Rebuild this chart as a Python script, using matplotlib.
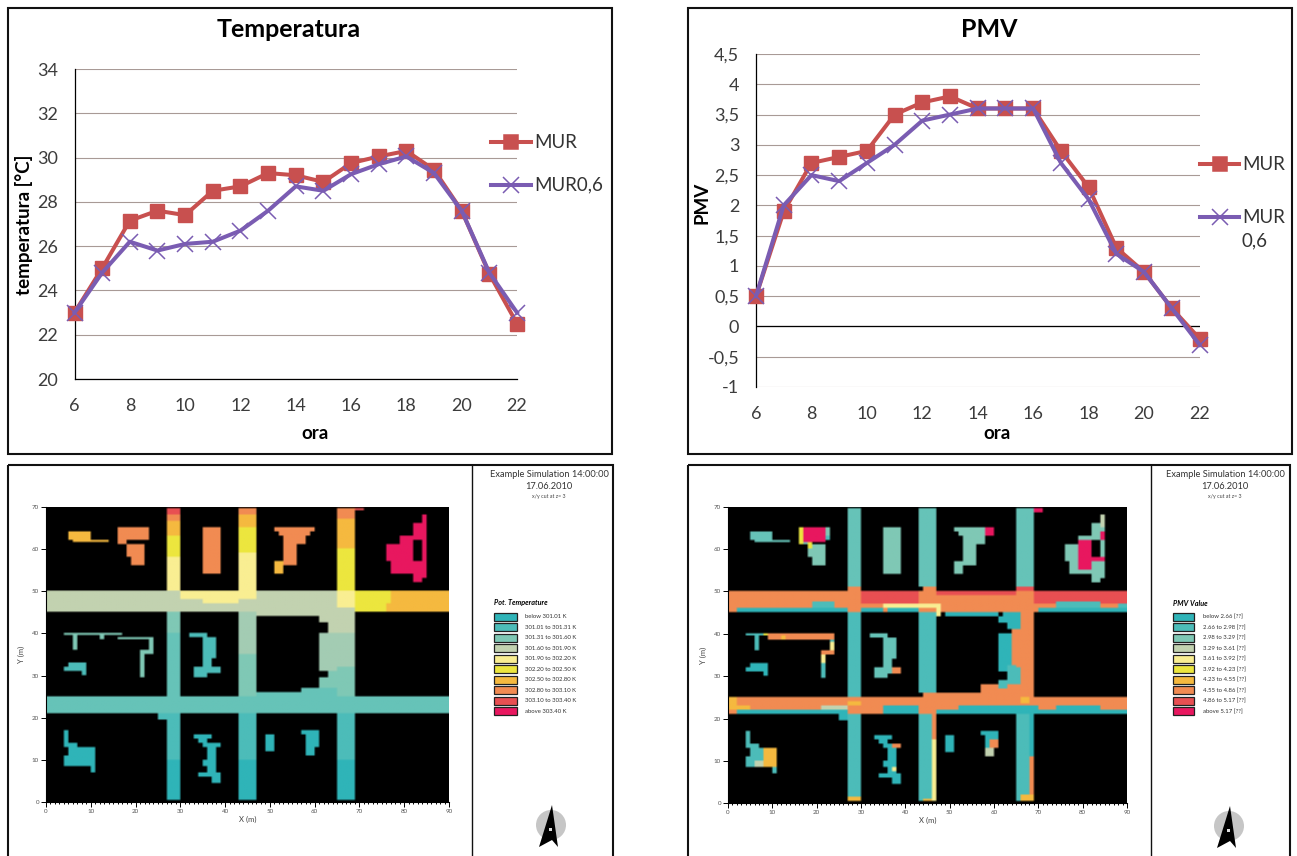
import numpy as np
import matplotlib
matplotlib.use('Agg')
import matplotlib.pyplot as plt
from matplotlib.colors import ListedColormap
from matplotlib.patches import Rectangle, Circle, Polygon
from matplotlib.ticker import MultipleLocator

plt.rcParams['font.family'] = ['Lato', 'DejaVu Sans']

W, H = 1297, 856

# line charts
hours = list(range(6, 23))
temp_mur = [23, 25, 27.15, 27.6, 27.4, 28.5, 28.7, 29.3, 29.2, 28.9, 29.75, 30.05, 30.3, 29.45, 27.6, 24.75, 22.5]
temp_mur06 = [23, 24.8, 26.2, 25.8, 26.1, 26.2, 26.7, 27.6, 28.7, 28.5, 29.25, 29.7, 30.05, 29.3, 27.6, 24.8, 23]
pmv_mur = [0.5, 1.9, 2.7, 2.8, 2.9, 3.5, 3.7, 3.8, 3.6, 3.6, 3.6, 2.9, 2.3, 1.3, 0.9, 0.3, -0.2]
pmv_mur06 = [0.5, 2, 2.5, 2.4, 2.7, 3, 3.4, 3.5, 3.6, 3.6, 3.6, 2.7, 2.1, 1.2, 0.9, 0.3, -0.3]

# legends of the two maps
palette = ['#2fb4b8', '#4cbcb9', '#7fc8b5', '#c2d2b0', '#f9ee92', '#ece63e',
           '#f5b93f', '#f18b52', '#e84f52', '#e8175f']
# in-between shades seen on the streets of the temperature map
shades = ['#66c3b8', '#a3ccb3']
temp_labels = ['below 301.01 K', '301.01 to 301.31 K', '301.31 to 301.60 K', '301.60 to 301.90 K',
               '301.90 to 302.20 K', '302.20 to 302.50 K', '302.50 to 302.80 K', '302.80 to 303.10 K',
               '303.10 to 303.40 K', 'above 303.40 K']
pmv_labels = ['below 2.66 [??]', '2.66 to 2.98 [??]', '2.98 to 3.29 [??]', '3.29 to 3.61 [??]',
              '3.61 to 3.92 [??]', '3.92 to 4.23 [??]', '4.23 to 4.55 [??]', '4.55 to 4.86 [??]',
              '4.86 to 5.17 [??]', 'above 5.17 [??]']

# map cells: x0, x1, y0, y1 in metres, last number is the legend class (10, 11 are the shades)
temp_streets = [
    (0, 90, 21, 25, 10), (0, 90, 45, 50, 3), (30, 47, 48, 50, 4), (35, 43, 47, 48, 4),
    (65, 69, 46, 50, 4), (69, 76, 45, 50, 5), (76, 90, 45, 50, 6), (74, 77, 47, 50, 5),
    (27, 30, 50, 58, 4), (27, 30, 58, 63, 5), (27, 30, 63, 66.5, 6), (27, 30, 66.5, 68, 7), (27, 30, 68, 69.5, 8),
    (27, 30, 40, 45, 2), (27, 30, 25, 40, 10), (27, 30, 10, 21, 1), (27, 30, 0.5, 10, 0), (25, 27, 19.5, 21, 1),
    (43, 47, 50, 59, 4), (43, 47, 59, 65, 5), (43, 47, 65, 68, 6), (43, 47, 68, 69.5, 7),
    (43, 47, 35, 45, 11), (43, 47, 25, 35, 2), (43, 47, 10, 21, 1), (43, 47, 0.5, 10, 0),
    (65, 69, 50, 60, 5), (65, 69, 60, 67, 6), (65, 69, 67, 69.5, 7), (69, 71, 69, 69.5, 8),
    (65, 69, 40, 45, 3), (65, 69, 32, 40, 11), (65, 69, 25, 32, 2), (65, 69, 10, 21, 1), (65, 69, 0.5, 10, 0),
    (47, 65, 44, 45, 3), (61, 65, 42.5, 44, 3), (63, 65, 40, 42.5, 3), (61, 65, 31, 40, 11),
    (63, 65, 29.5, 31, 2), (61, 65, 27, 29.5, 2), (57, 65, 26, 27, 10), (47, 65, 25, 26, 10),
]
pmv_streets = [
    (0, 90, 45, 50, 7), (0, 90, 21, 25, 7), (65, 69, 25, 45, 7), (44, 65, 25, 26, 7), (57, 65, 26, 28, 7),
    (64, 65, 28, 41, 7), (27, 30, 50, 51, 7), (44, 47, 50, 51, 7), (65, 69, 50, 51, 8),
    (30, 43, 47, 50, 8), (47, 65, 49, 50, 8), (69, 90, 47, 50, 8),
    (2, 27, 45, 46, 0), (19, 24, 46, 47.5, 1), (30, 35, 45, 46, 0), (35, 47, 46, 47, 4), (47, 48, 44, 47, 4),
    (36, 43, 45, 46, 0), (70, 90, 45, 46, 0), (74, 84, 46, 47.5, 1), (88, 90, 46, 47, 1),
    (0, 2, 22, 25, 6), (2, 5, 22, 23, 6), (21, 27, 22, 23, 3), (27, 30, 23, 24, 6),
    (2, 27, 21, 22, 0), (35, 43, 21, 23, 0), (52, 65, 21, 23, 0), (65, 70, 21, 23, 0), (66, 68, 23.5, 25, 6),
    (74, 84, 21, 23, 0), (84, 90, 21, 22, 0), (70, 74, 21, 22, 0), (47, 52, 21, 22, 0),
    (27, 30, 51, 69.5, 10), (43, 47, 51, 69.5, 10), (65, 69, 51, 69.5, 10), (69, 71, 68.5, 69.5, 9),
    (27, 30, 25, 45, 1), (43, 47, 26, 45, 1), (27, 30, 0.5, 21, 1), (43, 46, 0.5, 21, 1), (65, 68, 0.5, 21, 1),
    (68, 69, 0.5, 11, 7), (68, 69, 11, 21, 0), (46, 47, 15, 21, 7), (46, 47, 0.5, 15, 4), (25, 27, 19.5, 21, 0),
    (27, 30, 0.5, 1.5, 6), (44, 46, 0.5, 1.2, 6), (66, 69, 0.5, 2, 6),
    (49, 61, 44, 45, 0), (62, 65, 41, 45, 0), (65, 66, 41, 45, 0), (61, 62, 42, 44, 0),
    (61, 64, 31, 40, 0), (63, 65, 28, 32.5, 1), (65, 66, 28, 32, 1), (61, 63, 27, 29, 1),
]

# buildings are the same on both maps, only the classes change
flag = [(5, 10, 62, 64), (6, 14, 61.5, 62)]
blob = [(16, 23, 62, 65), (16, 18, 61, 62), (18, 22, 58, 61), (19, 22, 56, 58)]
slab = [(35, 39, 54, 65)]
tee = [(51, 60, 64, 65), (52, 59, 63, 64), (53, 58, 61, 63), (53, 56, 56, 61)]
tee_foot = [(51, 53, 54, 57)]
crescent = [(84, 85, 62, 68), (82, 85, 62, 66), (79, 82, 54, 63), (76, 79, 57, 61), (77, 85, 54, 57),
            (84, 85, 53, 62), (82, 84, 52, 54)]
crescent_hole = [(82, 84, 57, 62)]
pipes = [(4, 17, 39.5, 40), (16, 24, 38.5, 39), (6, 7, 36, 39.5), (12, 13, 38.5, 40), (23, 24, 35, 38.5),
         (21, 24, 35, 36), (21, 22, 29.5, 35)]
small_wing = [(5, 9, 31, 33), (4, 9, 31, 32), (8, 9, 30, 31)]
mid_block = [(32, 36, 39, 40), (35, 38, 34, 39), (35, 37, 32, 34), (33, 39, 30.5, 32), (33, 36, 29.5, 30.5)]
low_left = [(4, 5, 14, 17), (4, 7, 13, 14), (5, 11, 11, 13), (4, 11, 8.5, 11), (10, 11, 7, 8.5)]
low_mid = [(33, 37, 15, 16), (34, 36, 14, 15), (35, 39, 13, 14), (36, 38, 10, 13), (35, 38, 8.5, 10),
           (36, 38, 7, 8.5), (34, 38, 6, 7), (37, 39, 4.5, 7)]
low_rect = [(49, 51, 12, 16)]
low_right = [(57, 61, 16, 17), (58, 61, 13, 16), (58, 60, 11, 13)]
notches = [(61, 63, 40, 42.5), (61, 63, 29.5, 31)]

temp_blocks = [(flag, 6), (blob, 7), (slab, 7), (tee, 7), (tee_foot, 6), (crescent, 9), (pipes, 2),
               (small_wing, 1), (mid_block, 1), (low_left, 0), (low_mid, 0), (low_rect, 0), (low_right, 0)]
pmv_blocks = [(flag, 10), (blob, 2), (slab, 2), (tee, 2), (tee_foot, 2), (crescent, 2), (pipes, 1),
              (small_wing, 0), (mid_block, 10), (low_left, 1), (low_mid, 0), (low_rect, 0), (low_right, 0)]
pmv_spots = [
    (17, 22, 61.5, 65, 9), (16, 17, 61, 65, 5), (22, 23, 62, 63, 1), (18, 19, 60, 61.5, 5), (58, 60, 63, 65, 9),
    (79, 82, 55, 62, 9), (82, 85, 57, 58, 9), (84, 85, 62, 64, 9), (84, 85, 65, 68, 3),
    (9, 24, 38.5, 40, 7), (8, 9, 39.5, 40, 5), (12, 13, 38.5, 39.5, 6), (23, 24, 35, 38, 4), (21, 24, 35, 36, 7),
    (21, 22, 33, 35, 4), (37, 39, 30.5, 32, 7), (8, 11, 8.5, 13, 6), (6, 8, 8.5, 10, 3),
    (37, 39, 13, 14, 7), (37, 38, 7.5, 8.5, 4), (59, 61, 13, 15, 7), (58, 60, 11, 13, 3),
]

red = '#c8504f'
purple = '#7a5cb2'
cmap = ListedColormap(['black'] + palette + shades)


def axes_at(fig, left, top, right, bottom):
    # axes from a pixel box of the picture
    return fig.add_axes([left / W, 1 - bottom / H, (right - left) / W, (bottom - top) / H])


def paint(grid, rects, cls=None):
    for r in rects:
        x0, x1, y0, y1 = r[:4]
        c = cls if cls is not None else r[4]
        grid[int(y0 * 2):int(y1 * 2), int(x0 * 2):int(x1 * 2)] = c


def comma(v, p):
    return f'{v:g}'.replace('.', ',')


def line_chart(box, mur, mur06, ylim, ystep, ylabel, ylabel_xy, title, title_x, ora_x):
    ax = axes_at(fig, *box)
    ax.set_xlim(6, 22)
    ax.set_ylim(*ylim)
    ax.yaxis.set_major_locator(MultipleLocator(ystep))
    ax.xaxis.set_major_locator(MultipleLocator(2))
    ax.yaxis.set_major_formatter(comma)
    ax.grid(axis='y', color='#a89a96', lw=0.8)
    ax.set_axisbelow(True)
    for s in ['top', 'right']:
        ax.spines[s].set_visible(False)
    ax.spines['left'].set_linewidth(0.9)
    ax.spines['bottom'].set_linewidth(0.9)
    ax.tick_params(length=0, labelsize=13, labelcolor='#3c3c3c')
    ax.tick_params(axis='y', pad=12)
    ax.tick_params(axis='x', pad=14)
    ax.plot(hours, mur, color=red, lw=2.9, marker='s', ms=10.5, clip_on=False, zorder=3)
    ax.plot(hours, mur06, color=purple, lw=2.9, marker='x', ms=11, mew=1.1, clip_on=False, zorder=4)
    over.text(title_x, 29, title, fontsize=18, fontweight='bold', ha='center', va='center')
    over.text(ora_x, 433.5, 'ora', fontsize=13.5, fontweight='bold', ha='center', va='center')
    over.text(*ylabel_xy, ylabel, fontsize=13.5, fontweight='bold', rotation=90, ha='center', va='center')
    return ax


def map_panel(box, streets, blocks, spots):
    grid = np.full((140, 180), -1)
    paint(grid, streets)
    for rects, cls in blocks:
        paint(grid, rects, cls)
    paint(grid, crescent_hole, -1)
    paint(grid, notches, -1)
    paint(grid, spots)
    ax = axes_at(fig, *box)
    ax.imshow(grid, origin='lower', extent=(0, 90, 0, 70), aspect='auto', cmap=cmap, vmin=-1.5, vmax=11.5,
              interpolation='bilinear', interpolation_stage='rgba')
    ax.xaxis.set_major_locator(MultipleLocator(10))
    ax.yaxis.set_major_locator(MultipleLocator(10))
    ax.xaxis.set_minor_locator(MultipleLocator(1))
    ax.tick_params(which='major', length=3.5, width=0.7, labelsize=4.5, pad=1.5, labelcolor='#555555')
    ax.tick_params(which='minor', length=1.2, width=0.7)
    for s in ['top', 'right']:
        ax.spines[s].set_visible(False)
    ax.set_xlabel('X (m)', fontsize=5.5, labelpad=1, color='#444444')
    ax.set_ylabel('Y (m)', fontsize=5.5, labelpad=5, color='#444444')
    return ax


def side_panel(x_center, sw_left, sw_right, text_x, title, labels):
    over.text(x_center, 474, 'Example Simulation 14:00:00', fontsize=6.7, ha='center', va='center', color='#333333')
    over.text(x_center, 486, '17.06.2010', fontsize=6.7, ha='center', va='center', color='#333333')
    over.text(x_center, 496, 'x/y cut at z= 3', fontsize=3.8, ha='center', va='center', color='#444444')
    over.text(sw_left, 603, title, fontsize=5.2, fontweight='bold', style='italic', ha='left', va='center')
    for i, (c, lab) in enumerate(zip(palette, labels)):
        yc = 616.7 + i * 10.5
        over.add_patch(Rectangle((sw_left, yc - 4.2), sw_right - sw_left, 8.4, fc=c, ec='#222222', lw=0.9))
        over.text(text_x, yc, lab, fontsize=4.3, ha='left', va='center', color='#333333')


def north(xc, yc):
    over.add_patch(Circle((xc, yc), 15, fc='#c6c6c6', ec='none'))
    over.add_patch(Polygon([(xc + 1, yc - 20), (xc - 12, yc + 22), (xc + 1, yc + 15), (xc + 7, yc + 22)],
                           fc='black', ec='none'))
    over.add_patch(Rectangle((xc - 2, yc + 3), 3, 3, fc='#dddddd', ec='none'))


fig = plt.figure(figsize=(W / 100, H / 100), dpi=100)
over = fig.add_axes([0, 0, 1, 1], zorder=5)
over.patch.set_alpha(0)
over.axis('off')

line_chart((74.5, 69, 517, 379), temp_mur, temp_mur06, (20, 34), 2, 'temperatura [°C]', (24, 225),
           'Temperatura', 289, 315)
pmv = line_chart((756, 54, 1199.5, 387), pmv_mur, pmv_mur06, (-1, 4.5), 0.5, 'PMV', (702, 203),
                 'PMV', 989, 997)
pmv.spines['bottom'].set_visible(False)
pmv.axhline(0, color='black', lw=0.9, zorder=2)

# legends of the line charts
for x0, x1, y, col, mk, lab in [(491, 531, 142, red, 's', 'MUR'), (491, 531, 185, purple, 'x', 'MUR0,6'),
                                (1200, 1239, 164, red, 's', 'MUR'), (1200, 1239, 217, purple, 'x', 'MUR')]:
    over.plot([x0, x1], [y, y], color=col, lw=2.9)
    over.plot([(x0 + x1) / 2], [y], color=col, marker=mk, ms=10.5 if mk == 's' else 11, mew=1.1)
    over.text(x1 + 3, y, lab, fontsize=13.5, color='#333333', ha='left', va='center')
over.text(1242, 241, '0,6', fontsize=13.5, color='#333333', ha='left', va='center')

map_panel((46, 506.7, 449, 802.3), temp_streets, temp_blocks, [])
map_panel((728, 506.7, 1127, 803.3), pmv_streets, pmv_blocks, pmv_spots)
side_panel(549, 494, 517, 525, 'Pot. Temperature', temp_labels)
side_panel(1225, 1173, 1194, 1203, 'PMV Value', pmv_labels)
north(551, 825)
north(1229, 826)

# frames of the four panels
for x0, x1, y0, y1 in [(8, 612, 8, 454), (688, 1292, 8, 454), (8, 613, 465, 862), (688, 1290, 465, 862)]:
    over.add_patch(Rectangle((x0, y0), x1 - x0, y1 - y0, fc='none', ec='#111111', lw=1.5))
over.plot([472, 472], [465, 856], color='#111111', lw=1)
over.plot([1151, 1151], [465, 856], color='#111111', lw=1)
over.set_xlim(0, W)
over.set_ylim(H, 0)

fig.savefig('out.png', dpi=100)
